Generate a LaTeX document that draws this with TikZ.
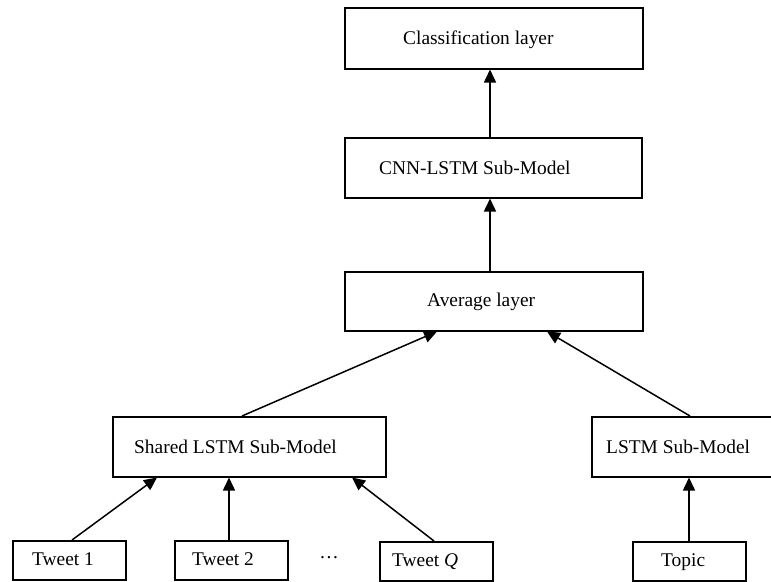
\documentclass[tikz,border=0pt]{standalone}
\usepackage{fontspec}
\setmainfont{Liberation Serif}
\usetikzlibrary{arrows.meta}
\begin{document}
\begin{tikzpicture}[x=1pt,y=-1pt,
  box/.style={draw=black,line width=1.5pt,fill=white,inner sep=0pt,anchor=north west},
  lbl/.style={inner sep=0pt,anchor=base west,font=\fontsize{19.4}{23}\selectfont},
  arr/.style={line width=1.5pt,-{Triangle[length=13pt,width=12pt]}}]
\useasboundingbox (0,0) rectangle (771,581);
\clip (0,0) rectangle (771,581);
% boxes
\node[box,minimum width=298pt,minimum height=61pt] (cls) at (344,7) {};
\node[box,minimum width=297pt,minimum height=60pt] (cnn) at (344,137) {};
\node[box,minimum width=298pt,minimum height=59pt] (avg) at (344,271) {};
\node[box,minimum width=273pt,minimum height=60pt] (shared) at (112,416) {};
\node[box,minimum width=273pt,minimum height=60pt] (lstm) at (591,416) {};
\node[box,minimum width=113pt,minimum height=39pt] (tw1) at (12,540) {};
\node[box,minimum width=113pt,minimum height=39pt] (tw2) at (174,540) {};
\node[box,minimum width=113pt,minimum height=39pt] (twq) at (379,541) {};
\node[box,minimum width=113pt,minimum height=39pt] (topic) at (632,541) {};
% labels
\node[lbl] (clsT) at (403,44) {Classification layer};
\node[lbl] (cnnT) at (379,174) {CNN-LSTM Sub-Model};
\node[lbl] (avgT) at (427,306) {Average layer};
\node[lbl] (sharedT) at (134,453) {Shared LSTM Sub-Model};
\node[lbl] (lstmT) at (606,453) {LSTM Sub-Model};
\node[lbl] (tw1T) at (32,565) {Tweet 1};
\node[lbl] (tw2T) at (192,565) {Tweet 2};
\node[lbl] (twqT) at (392,566) {Tweet \textit{Q}};
\node[lbl] (topicT) at (661,566) {Topic};
\node[lbl,anchor=base] (dots) at (329,558) {…};
% arrows
\draw[arr] (tw1.north -| 72,0) -- (shared.south -| 157,0);
\draw[arr] (tw2.north -| 229,0) -- (shared.south -| 229,0);
\draw[arr] (twq.north -| 434,0) -- (shared.south -| 352,0);
\draw[arr] (topic.north -| 689,0) -- (lstm.south -| 689,0);
\draw[arr] (shared.north -| 242,0) -- (avg.south -| 437,0);
\draw[arr] (lstm.north -| 690,0) -- (avg.south -| 547,0);
\draw[arr] (avg.north -| 490,0) -- (cnn.south -| 490,0);
\draw[arr] (cnn.north -| 490,0) -- (cls.south -| 490,0);
\end{tikzpicture}
\end{document}
